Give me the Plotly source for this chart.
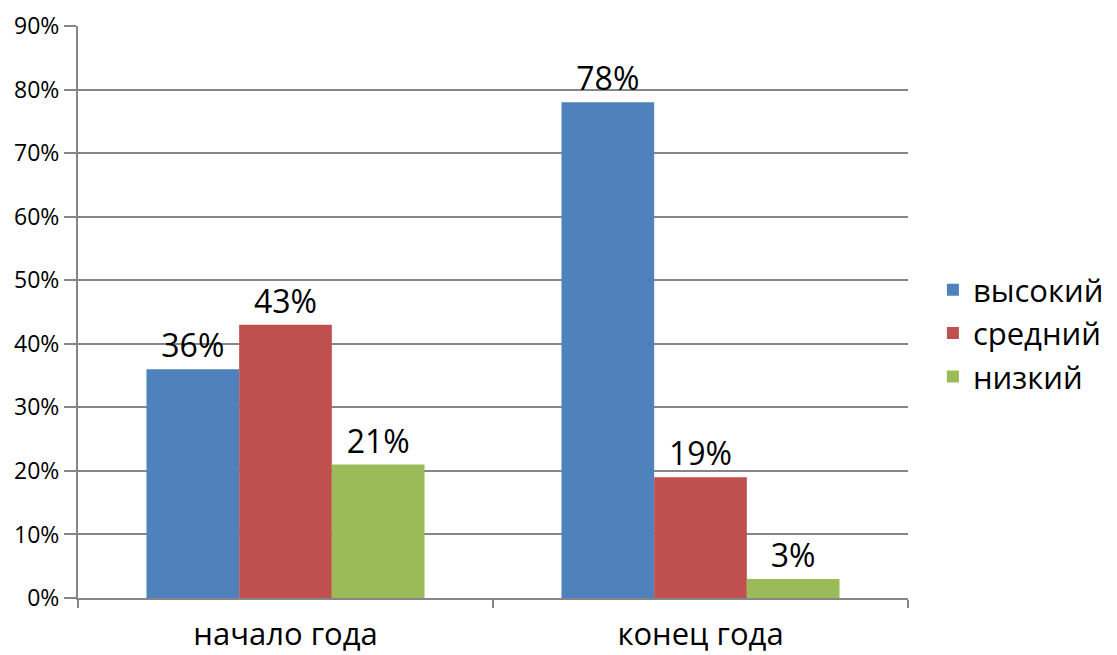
import plotly.graph_objects as go

categories = ["начало года", "конец года"]
series_names = ["высокий", "средний", "низкий"]
vysokiy = [0.36, 0.78]
sredniy = [0.43, 0.19]
nizkiy = [0.21, 0.03]
colors = ["#4F81BD", "#C0504D", "#9BBB59"]

FONT = "Open Sans, Liberation Sans, sans-serif"

fig = go.Figure()
for name, vals, col in zip(series_names, [vysokiy, sredniy, nizkiy], colors):
    fig.add_trace(go.Bar(
        x=categories, y=vals, name=name, marker_color=col, marker_line_width=0,
        text=[f"{round(v*100)}%" for v in vals], textposition="outside",
        textfont=dict(size=32, color="black", family=FONT), cliponaxis=False,
    ))

fig.update_layout(
    width=1117, height=655,
    margin=dict(l=70, r=217, t=18, b=65),
    paper_bgcolor="white", plot_bgcolor="white",
    barmode="group", bargap=0.33, bargroupgap=0,
    font=dict(family=FONT, color="black"),
    uniformtext=dict(mode=False),
    legend=dict(x=1.03, y=0.463, xanchor="left", yanchor="middle",
                font=dict(size=31, family=FONT), traceorder="normal",
                itemwidth=30, tracegroupgap=0),
    showlegend=True,
)
fig.update_xaxes(showline=True, linecolor="#868686", linewidth=2, automargin=False,
                 ticks="outside", tickson="boundaries", ticklen=8, tickcolor="#868686", tickwidth=2,
                 ticklabelstandoff=8,
                 tickfont=dict(size=31, family=FONT), showgrid=False)
fig.update_yaxes(range=[0, 0.9], dtick=0.1, tickformat=".0%", automargin=False,
                 showline=True, linecolor="#868686", linewidth=2,
                 ticks="outside", ticklen=12, tickcolor="#868686", tickwidth=2,
                 showgrid=True, gridcolor="#868686", gridwidth=2,
                 tickfont=dict(size=23, family=FONT), zeroline=False)

fig.write_html("out.html")
